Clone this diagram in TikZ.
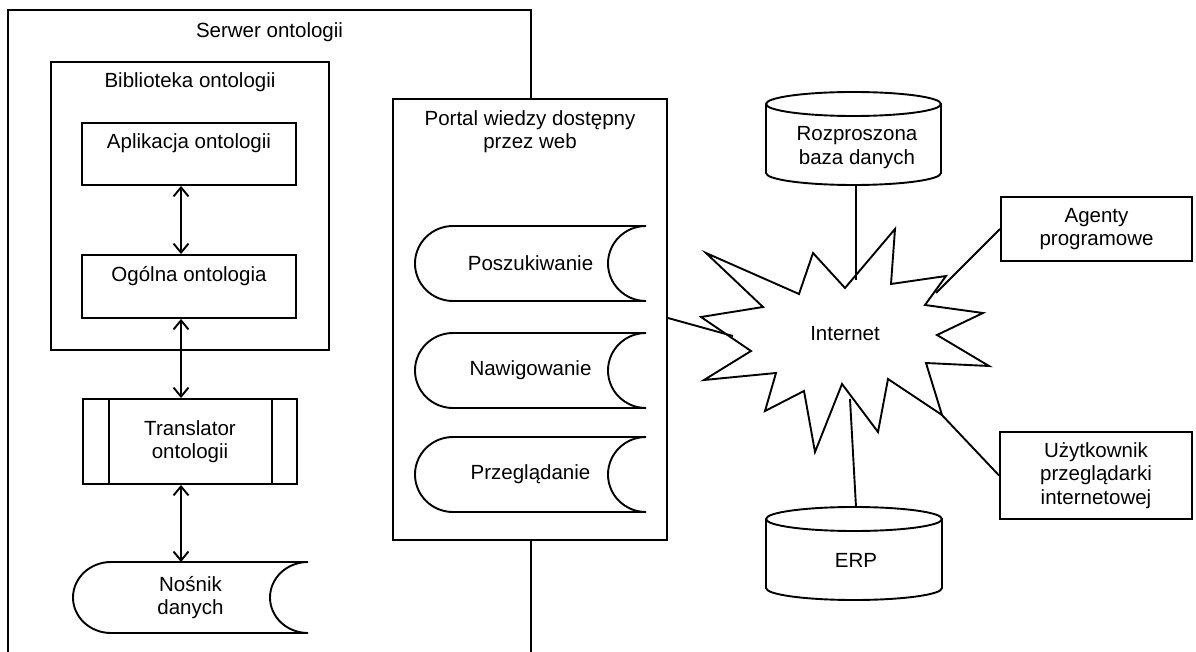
\documentclass[tikz,border=0pt]{standalone}
\usepackage{fontspec}
\setmainfont{Liberation Sans}
\usetikzlibrary{arrows.meta,calc}

\tikzset{
  ln/.style={line width=1.9pt, line join=miter},
  box/.style={ln, draw, rectangle, inner sep=0pt},
  plainbox/.style={rectangle, inner sep=0pt, outer sep=0pt},
  txt/.style={align=center, inner sep=0pt, font=\fontsize{20.5}{23.5}\selectfont},
  barb/.tip={Straight Barb[length=9pt, width=15pt]},
  biarrow/.style={ln, barb-barb},
  link/.style={ln},
}

% "stored data" outline: rounded left end, concave right end
\newcommand\storedoutline[1]{%
  \draw[ln] let \p1=(#1.north east), \p2=(#1.south west), \n1={0.5*(\y1-\y2)} in
    (\p1) -- (\x2+38pt,\y1)
    arc[start angle=90, end angle=270, x radius=38pt, y radius=\n1]
    -- (\x1,\y2)
    arc[start angle=270, end angle=90, x radius=38pt, y radius=\n1];}

% database cylinder outline
\newcommand\cylinderoutline[1]{%
  \draw[ln] let \p1=(#1.north east), \p2=(#1.south west), \n1={0.5*(\x1-\x2)} in
    (\x2+\n1,\y1-12pt) ellipse[x radius=\n1, y radius=12pt]
    (\x2,\y1-12pt) -- (\x2,\y2+12pt)
    arc[start angle=180, end angle=360, x radius=\n1, y radius=12pt]
    -- (\x1,\y1-12pt);}

\begin{document}
\begin{tikzpicture}[x=1pt, y=1pt]
\useasboundingbox (0,0) rectangle (1196,-652);
\clip (0,0) rectangle (1196,-652);

% ---------- ontology server ----------
\node[box, minimum width=523pt, minimum height=690pt] (server) at (269.5,-355) {};
\node[txt] (serverTxt) at (269.5,-32) {Serwer ontologii};

\node[box, minimum width=278pt, minimum height=288pt] (lib) at (190,-206) {};
\node[txt] (libTxt) at (190,-82) {Biblioteka ontologii};

\node[box, minimum width=214pt, minimum height=62pt] (apl) at (189,-154) {};
\node[txt] (aplTxt) at (189,-143) {Aplikacja ontologii};

\node[box, minimum width=214pt, minimum height=63pt] (ogol) at (189,-286.5) {};
\node[txt] (ogolTxt) at (189,-276) {Ogólna ontologia};

\node[box, txt, minimum width=214pt, minimum height=85pt] (trans) at (190,-441.5) {Translator\\ontologii};
\draw[ln] ([xshift=27pt]trans.north west) -- ([xshift=27pt]trans.south west);
\draw[ln] ([xshift=-26pt]trans.north east) -- ([xshift=-26pt]trans.south east);

\node[plainbox, txt, minimum width=235pt, minimum height=71pt] (nosnik) at (190.5,-597.5) {Nośnik\\danych};
\storedoutline{nosnik}

\draw[biarrow] ([xshift=-8pt]apl.south) -- ([xshift=-8pt]ogol.north);
\draw[biarrow] ([xshift=-8pt]ogol.south) -- ([xshift=-9pt]trans.north);
\draw[biarrow] ([xshift=-9pt]trans.south) -- ([xshift=-9.5pt]nosnik.north);

% ---------- knowledge portal (drawn over the server frame) ----------
\node[box, fill=white, minimum width=274pt, minimum height=441pt] (portal) at (530,-319.5) {};
\node[txt] (portalTxt) at (530,-131.5) {Portal wiedzy dostępny\\przez web};

\node[plainbox, txt, minimum width=231pt, minimum height=75pt] (posz) at (530.5,-263.5) {Poszukiwanie};
\storedoutline{posz}
\node[plainbox, txt, minimum width=231pt, minimum height=75pt] (nawi) at (530.5,-370.5) {Nawigowanie};
\storedoutline{nawi}
\node[plainbox, txt, minimum width=231pt, minimum height=75pt] (przeg) at (530.5,-474.5) {Przeglądanie};
\storedoutline{przeg}

% ---------- Internet ----------
\draw[ln] (706,-253) -- (799,-294) -- (813,-253) -- (845,-288) -- (895,-229)
  -- (891,-284) -- (946,-276) -- (925,-305) -- (983,-313) -- (937,-335)
  -- (989,-366) -- (926,-363) -- (942,-415) -- (888,-379) -- (878,-432)
  -- (842,-384) -- (815,-452) -- (804,-391) -- (765,-411) -- (776,-373)
  -- (704,-380) -- (751,-351) -- (701,-317) -- (763,-307) -- cycle;
\node[txt] (inet) at (845,-334) {Internet};

\coordinate (inetW)  at (733,-336);
\coordinate (inetN)  at (856,-280);
\coordinate (inetNE) at (936,-293);
\coordinate (inetSE) at (940,-413);
\coordinate (inetS)  at (850,-399);

% ---------- surrounding systems ----------
\node[plainbox, minimum width=175pt, minimum height=93pt] (rozp) at (853.5,-138.5) {};
\cylinderoutline{rozp}
\node[txt] (rozpTxt) at (857,-147.5) {Rozproszona\\baza danych};

\node[plainbox, minimum width=176pt, minimum height=93pt] (erp) at (854,-553.5) {};
\cylinderoutline{erp}
\node[txt] (erpTxt) at (856,-560) {ERP};

\node[box, txt, minimum width=191pt, minimum height=64pt] (agenty) at (1096.5,-229) {Agenty\\programowe};
\node[box, txt, minimum width=192pt, minimum height=87pt] (uzyt) at (1096,-475.5) {Użytkownik\\przeglądarki\\internetowej};

% ---------- links to the Internet ----------
\draw[link] ([yshift=1.5pt]portal.east) -- (inetW);
\draw[link] ([xshift=2.5pt]rozp.south) -- (inetN);
\draw[link] (agenty.west) -- (inetNE);
\draw[link] (uzyt.west) -- (inetSE);
\draw[link] ([xshift=2pt]erp.north) -- (inetS);
\end{tikzpicture}
\end{document}
